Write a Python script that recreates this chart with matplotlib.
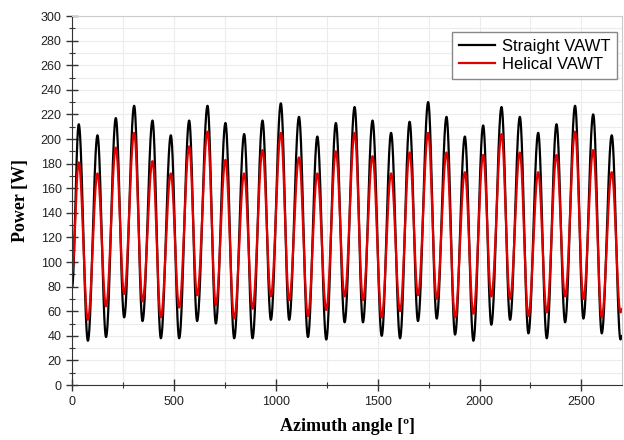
import matplotlib
matplotlib.use('Agg')
import matplotlib.pyplot as plt
import numpy as np
from matplotlib.ticker import MultipleLocator

# --- data ---
# azimuth angles of the peaks and troughs (deg)
peak_angle = [33, 125, 215, 305, 395, 485, 575, 665, 753, 845,
              935, 1025, 1114, 1204, 1295, 1387, 1475, 1566, 1657, 1748,
              1838, 1928, 2018, 2108, 2198, 2288, 2378, 2469, 2558, 2649]
trough_angle = [78, 167, 256, 346, 436, 526, 614, 706, 796, 886,
                976, 1066, 1158, 1248, 1338, 1428, 1520, 1610, 1698, 1790,
                1880, 1970, 2058, 2150, 2240, 2330, 2420, 2510, 2600, 2692]

straight_peak = [212, 203, 217, 227, 215, 203, 215, 227, 213, 204,
                 215, 229, 218, 202, 213, 226, 215, 205, 214, 230,
                 218, 202, 211, 226, 218, 205, 212, 227, 220, 203]
straight_trough = [36, 39, 55, 52, 38, 38, 52, 50, 38, 38,
                   53, 53, 39, 37, 51, 51, 40, 38, 52, 54,
                   41, 36, 49, 53, 42, 38, 51, 54, 42, 37]

helical_peak = [181, 172, 193, 205, 182, 172, 194, 206, 183, 172,
                191, 205, 185, 172, 190, 205, 186, 172, 189, 205,
                189, 173, 187, 204, 189, 173, 187, 206, 191, 173]
helical_trough = [53, 64, 74, 68, 55, 63, 73, 65, 54, 62,
                  72, 69, 56, 61, 72, 69, 55, 60, 73, 70,
                  55, 58, 72, 70, 56, 59, 72, 70, 55, 59]

# values at the two ends of the plotted range
start_angle, end_angle = 0, 2700
straight_ends = [79, 40]
helical_ends = [91, 62]


def build_curve(peaks, troughs, ends):
    # alternate peak / trough and join them with half-cosine arcs
    xs = [start_angle]
    ys = [ends[0]]
    for pa, pv, ta, tv in zip(peak_angle, peaks, trough_angle, troughs):
        xs += [pa, ta]
        ys += [pv, tv]
    xs.append(end_angle)
    ys.append(ends[1])
    X, Y = [], []
    for i in range(len(xs) - 1):
        t = np.linspace(0, 1, 40, endpoint=False)
        w = (1 - np.cos(np.pi * t)) / 2
        X.append(xs[i] + (xs[i + 1] - xs[i]) * t)
        Y.append(ys[i] + (ys[i + 1] - ys[i]) * w)
    X.append([xs[-1]])
    Y.append([ys[-1]])
    return np.concatenate(X), np.concatenate(Y)


x_s, y_s = build_curve(straight_peak, straight_trough, straight_ends)
x_h, y_h = build_curve(helical_peak, helical_trough, helical_ends)

# --- plotting ---
plt.rcParams['font.family'] = ['Liberation Sans', 'DejaVu Sans']
fig = plt.figure(figsize=(6.24, 4.4), dpi=100)
ax = fig.add_axes([0.1154, 0.125, 0.8816, 0.8386])

ax.plot(x_s, y_s, color='black', lw=1.6, label='Straight VAWT')
ax.plot(x_h, y_h, color='#e00000', lw=1.6, label='Helical VAWT')

ax.set_xlim(0, 2700)
ax.set_ylim(0, 300)
ax.xaxis.set_major_locator(MultipleLocator(500))
ax.xaxis.set_minor_locator(MultipleLocator(250))
ax.yaxis.set_major_locator(MultipleLocator(20))
ax.yaxis.set_minor_locator(MultipleLocator(10))

ax.grid(True, which='both', color='#ececec', lw=0.8)
ax.set_axisbelow(True)

ax.tick_params(which='major', direction='inout', length=8, width=1,
               color='#333333', labelsize=9, labelcolor='#222222')
ax.tick_params(axis='x', which='major', pad=4)
ax.tick_params(which='minor', direction='inout', length=5, width=0.8,
               color='#333333')
ax.tick_params(top=False, right=False, which='both')

for side in ['left', 'bottom']:
    ax.spines[side].set_color('#333333')
for side in ['top', 'right']:
    ax.spines[side].set_color('#cccccc')

ax.set_xlabel('Azimuth angle [º]', family='Liberation Serif',
              fontweight='bold', fontsize=13, labelpad=7)
ax.set_ylabel('Power [W]', family='Liberation Serif',
              fontweight='bold', fontsize=13, labelpad=8)

leg = ax.legend(loc='upper right', bbox_to_anchor=(0.991, 0.957),
                fontsize=12, fancybox=False, framealpha=1,
                edgecolor='#888888', handlelength=2.2, handletextpad=0.4,
                borderaxespad=0, labelspacing=0.2)
leg.get_frame().set_linewidth(1.0)

plt.savefig('out.png', dpi=100)
